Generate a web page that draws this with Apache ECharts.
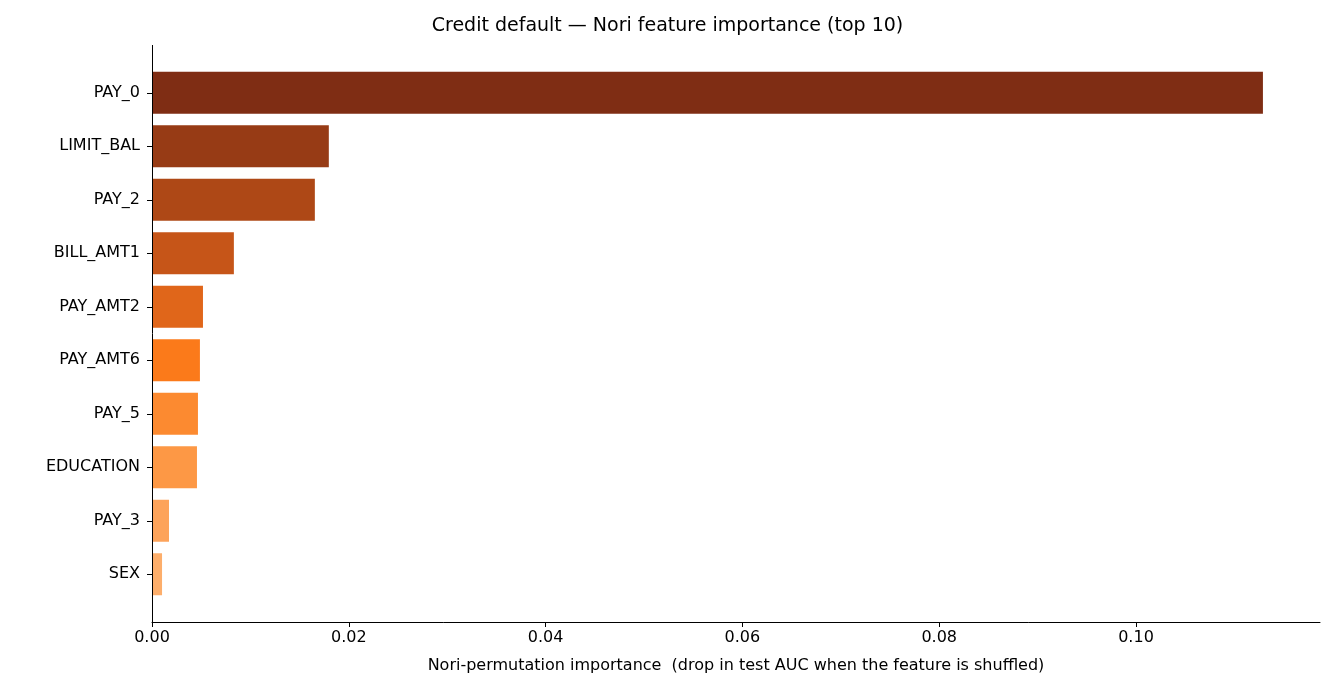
<!DOCTYPE html>
<html><head><meta charset="utf-8">
<script src="https://cdn.jsdelivr.net/npm/echarts@6/dist/echarts.min.js"></script>
<style>html,body{margin:0;padding:0;background:#fff}#c{width:1335px;height:700px}</style>
</head><body><div id="c"></div>
<script>
const features = ["PAY_0","LIMIT_BAL","PAY_2","BILL_AMT1","PAY_AMT2","PAY_AMT6","PAY_5","EDUCATION","PAY_3","SEX"];
const importance = [0.1129,0.01797,0.01655,0.00832,0.00518,0.00487,0.00467,0.00457,0.00173,0.00102];
const colors = ["#7f2d14","#973b15","#ae4816","#c65518","#e0661a","#fb7a1a","#fc8a30","#fd9845","#fda35a","#fdae6b"];
const chart = echarts.init(document.getElementById('c'));
const f = 'DejaVu Sans';
chart.setOption({
  animation:false,
  title:{text:'Credit default — Nori feature importance (top 10)',left:'center',top:12,textStyle:{fontFamily:f,fontSize:19,fontWeight:'normal',color:'#000'}},
  grid:{left:152,right:15,top:66,bottom:99},
  graphic:[{type:'line',shape:{x1:152.5,y1:45,x2:152.5,y2:622},style:{stroke:'#000',lineWidth:1},z:10}],
  xAxis:{type:'value',min:0,max:0.1187,interval:0.02,offset:21,
    name:'Nori-permutation importance  (drop in test AUC when the feature is shuffled)',nameLocation:'middle',nameGap:36,
    nameTextStyle:{fontFamily:f,fontSize:16,color:'#000'},
    axisLine:{show:true,lineStyle:{color:'#000'}},axisTick:{show:true,length:5,lineStyle:{color:'#000'}},
    axisLabel:{fontFamily:f,fontSize:16,color:'#000',formatter:v=>v.toFixed(2),showMaxLabel:false},splitLine:{show:false}},
  yAxis:{type:'category',inverse:true,data:features,
    axisLine:{show:false},axisTick:{show:true,alignWithLabel:true,length:5,lineStyle:{color:'#000'}},
    axisLabel:{fontFamily:f,fontSize:16,color:'#000',margin:12}},
  series:[{type:'bar',barCategoryGap:'21.5%',
    data:importance.map((v,i)=>({value:v,itemStyle:{color:colors[i]}}))}]
});
</script></body></html>
